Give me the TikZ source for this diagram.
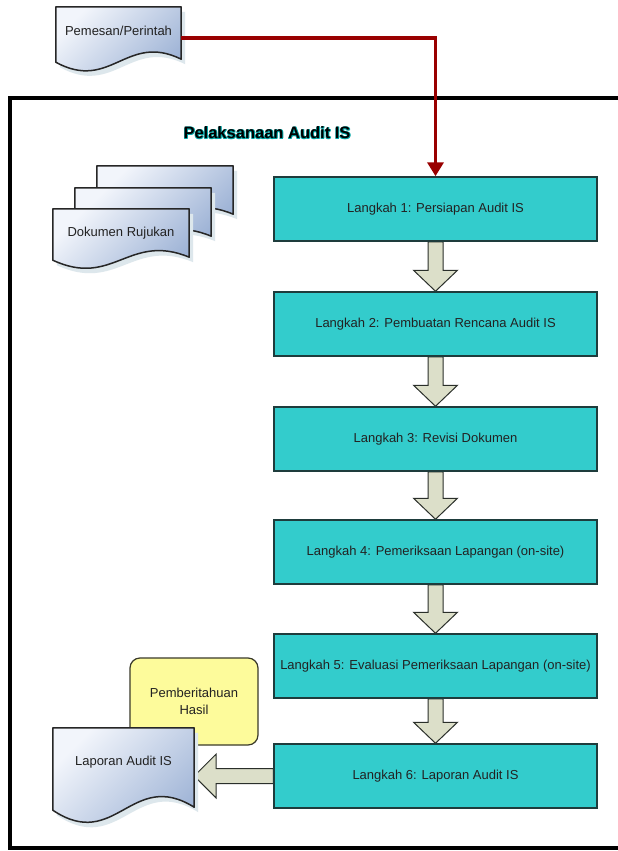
\documentclass[tikz,border=0pt]{standalone}
\usepackage{fontspec}
\setmainfont{Liberation Sans}
\usetikzlibrary{arrows.meta,calc,backgrounds}

\definecolor{stepfill}{HTML}{33CCCC}
\definecolor{stepline}{HTML}{1E3C3C}
\definecolor{blockfill}{HTML}{DCDFC9}
\definecolor{blockline}{HTML}{2A2F2A}
\definecolor{docLight}{HTML}{F2F5FB}
\definecolor{docDark}{HTML}{9AB0D4}
\definecolor{docShade}{HTML}{DDE7EC}
\definecolor{noteFill}{HTML}{FDFB9B}
\definecolor{noteLine}{HTML}{3A3A2A}
\definecolor{flowRed}{HTML}{990000}
\definecolor{titleGlow}{HTML}{00A5A5}
\definecolor{inkText}{HTML}{222222}

% outline of a document sheet drawn around an empty frame node
% #1 = node name, #2 = depth of the wavy bottom edge
\newcommand{\sheetoutline}[2]{(#1.north west) -- (#1.north east) -- ($(#1.south east)+(0,-3)$)
  .. controls ($(#1.south)+(8,-#2)$) and ($(#1.south)+(-8,#2)$) .. (#1.south west) -- cycle}
\newcommand{\docsheet}[2]{%
  \fill[docshade] \sheetoutline{#1}{#2};
  \path[docline] \sheetoutline{#1}{#2};}
% wide block arrow pointing down from one step to the next
\newcommand{\blockdown}[2]{%
  \path[blockarrow] ([xshift=-7.5pt]#1.south) -- ([xshift=-7.5pt,yshift=21pt]#2.north)
    -- ([xshift=-22pt,yshift=21pt]#2.north) -- (#2.north)
    -- ([xshift=22pt,yshift=21pt]#2.north) -- ([xshift=7.5pt,yshift=21pt]#2.north)
    -- ([xshift=7.5pt]#1.south) -- cycle;}

\tikzset{
  every node/.style={font=\fontsize{13}{17}\selectfont, text=inkText},
  stepbox/.style={draw=stepline, line width=1.5pt, fill=stepfill,
    minimum width=323pt, minimum height=64pt, inner sep=0pt},
  docframe/.style={inner sep=0pt, draw=none},
  docline/.style={draw=black!85, line width=1.5pt, line join=round,
    top color=docLight, bottom color=docDark, shading angle=45},
  docshade/.style={fill=docShade, transform canvas={shift={(4pt,-5pt)}}},
  notebox/.style={draw=noteLine, line width=1.2pt, fill=noteFill,
    rounded corners=10pt, minimum width=128pt, minimum height=87pt,
    align=center, inner sep=0pt},
  blockarrow/.style={draw=blockline, line width=1pt, fill=blockfill, line join=miter},
  flow/.style={draw=flowRed, line width=3.5pt,
    -{Triangle[width=16pt,length=14pt]}},
  frameline/.style={draw=black, line width=3.5pt},
}

\begin{document}
\begin{tikzpicture}[x=1pt,y=-1pt]
\useasboundingbox (0,0) rectangle (618,851);

% outer process frame (its right side runs past the page edge)
\path[frameline] (10,98) rectangle (660,848);

% title with a soft teal halo
\foreach \dx/\dy in {0.7/0.7,-0.5/0.5,0.5/-0.5,1/0}
  \node[font=\fontsize{16.5}{18}\bfseries, text=titleGlow] at (267+\dx,133+\dy) {Pelaksanaan Audit IS};
\node[font=\fontsize{16.5}{18}\bfseries, text=black] (title) at (267,133) {Pelaksanaan Audit IS};

% steps
\node[stepbox] (s1) at (435.5,209) {Langkah 1: Persiapan Audit IS};
\node[stepbox] (s2) at (435.5,324) {Langkah 2: Pembuatan Rencana Audit IS};
\node[stepbox] (s3) at (435.5,439) {Langkah 3: Revisi Dokumen};
\node[stepbox] (s4) at (435.5,552) {Langkah 4: Pemeriksaan Lapangan (on-site)};
\node[stepbox] (s5) at (435.5,666) {Langkah 5: Evaluasi Pemeriksaan Lapangan (on-site)};
\node[stepbox] (s6) at (435.5,776) {Langkah 6: Laporan Audit IS};

% order document
\node[docframe, minimum width=125pt, minimum height=55pt] (pem) at (118.5,34.5) {};
\docsheet{pem}{30}
\node (pemtxt) at ([yshift=3.5pt]pem.center) {Pemesan/Perintah};

% stack of reference documents
\node[docframe, minimum width=136pt, minimum height=51pt] (ref3) at (165,191.5) {};
\node[docframe, minimum width=136pt, minimum height=51pt] (ref2) at (143,213.5) {};
\node[docframe, minimum width=136pt, minimum height=51pt] (ref1) at (121,234.5) {};
\docsheet{ref3}{28}
\docsheet{ref2}{28}
\docsheet{ref1}{28}
\node (reftxt) at ([yshift=1.5pt]ref1.center) {Dokumen Rujukan};

% notification note and report document
\node[notebox] (note) at (194,701.5) {Pemberitahuan\\Hasil};
\node[docframe, minimum width=141pt, minimum height=82pt] (lap) at (123.5,769) {};
\docsheet{lap}{42}
\node (laptxt) at ([yshift=7pt]lap.center) {Laporan Audit IS};

% connectors
\draw[flow] ([yshift=-3.5pt]pem.east) -| (s1.north);

\begin{scope}[on background layer]
  \fill[white] (0,0) rectangle (618,851);
  \blockdown{s1}{s2}
  \blockdown{s2}{s3}
  \blockdown{s3}{s4}
  \blockdown{s4}{s5}
  \blockdown{s5}{s6}
  \coordinate (laptip) at (lap.east |- s6.west);
  \path[blockarrow] ([yshift=7.5pt]s6.west) -- ([xshift=22pt,yshift=7.5pt]laptip)
    -- ([xshift=22pt,yshift=22pt]laptip) -- (laptip)
    -- ([xshift=22pt,yshift=-22pt]laptip) -- ([xshift=22pt,yshift=-7.5pt]laptip)
    -- ([yshift=-7.5pt]s6.west) -- cycle;
\end{scope}
\end{tikzpicture}
\end{document}
